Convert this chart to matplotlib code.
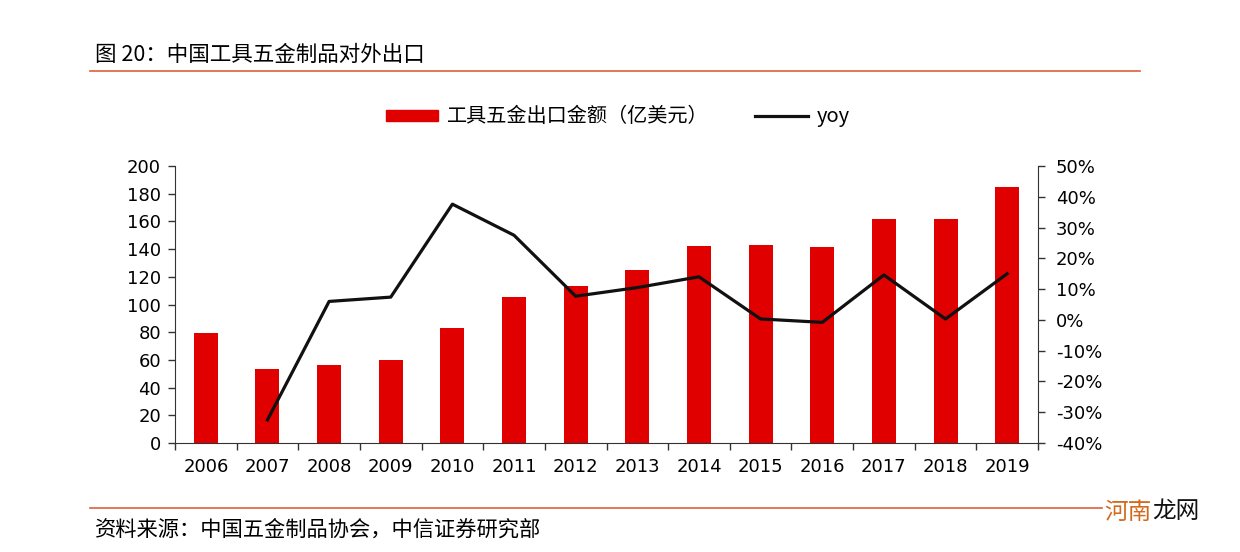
import matplotlib.pyplot as plt
from matplotlib.ticker import FuncFormatter, MultipleLocator
from matplotlib.lines import Line2D
from matplotlib.patches import Patch

plt.rcParams['font.family'] = ['DejaVu Sans', 'Noto Sans CJK SC']

years = ['2006', '2007', '2008', '2009', '2010', '2011', '2012',
         '2013', '2014', '2015', '2016', '2017', '2018', '2019']
export_value = [79.5, 53.5, 56.5, 60, 83, 105.5, 113.5, 125, 142, 143, 141.5, 161.5, 162, 185]
yoy = [None, -0.325, 0.06, 0.074, 0.376, 0.275, 0.077, 0.105, 0.14, 0.003, -0.008, 0.146, 0.003, 0.15]

cjk = ['Noto Sans CJK SC', 'DejaVu Sans']
line_col = '#d9603b'

fig = plt.figure(figsize=(12.4, 5.52), dpi=100)
ax = fig.add_axes([175 / 1240, 1 - 443 / 552, (1038 - 175) / 1240, (443 - 166) / 552])
ax2 = ax.twinx()

x = list(range(len(years)))
ax.bar(x, export_value, width=0.39, color='#e00000', zorder=2)
ax.set_xlim(-0.5, len(years) - 0.5)
ax.set_ylim(0, 200)
ax.yaxis.set_major_locator(MultipleLocator(20))
ax.set_xticks([i - 0.5 for i in range(len(years) + 1)])
ax.set_xticklabels([])
ax.set_xticks(x, minor=True)
ax.set_xticklabels(years, minor=True)
ax.tick_params(axis='x', which='minor', length=0, pad=11, labelsize=13)
ax.tick_params(axis='x', which='major', length=5, width=1, color='#333333')
ax.tick_params(axis='y', length=5, width=1, labelsize=13, pad=5, color='#333333')

yx = [i for i, v in enumerate(yoy) if v is not None]
yv = [v for v in yoy if v is not None]
ax2.plot(yx, yv, color='#111111', lw=2.3, zorder=3)
ax2.set_ylim(-0.4, 0.5)
ax2.yaxis.set_major_locator(MultipleLocator(0.1))
ax2.yaxis.set_major_formatter(FuncFormatter(lambda v, p: f'{round(v * 100):d}%'))
ax2.tick_params(axis='y', length=5, width=1, labelsize=13, pad=8, color='#333333')

for a in (ax, ax2):
    a.spines['top'].set_visible(False)
    for s in ('left', 'right', 'bottom'):
        a.spines[s].set_color('#333333')
ax.spines['right'].set_visible(False)
ax2.spines['left'].set_visible(False)
ax2.spines['bottom'].set_visible(False)

handles = [Patch(color='#e00000'), Line2D([0], [0], color='#111111', lw=2.3)]
leg = fig.legend(handles, ['工具五金出口金额（亿美元）', 'yoy'], loc='center',
                 bbox_to_anchor=(618 / 1240, 1 - 117 / 552), ncol=2, frameon=False,
                 handlelength=2.6, handleheight=0.45, columnspacing=2.3, handletextpad=0.45,
                 prop={'family': cjk, 'size': 14.5})

fig.text(95 / 1240, 1 - 55 / 552, '图 20：中国工具五金制品对外出口', family=cjk,
         fontsize=15.5, va='center', ha='left')
fig.add_artist(Line2D([90 / 1240, 1140 / 1240], [1 - 71 / 552] * 2, color=line_col, lw=1.2))
fig.add_artist(Line2D([90 / 1240, 1102 / 1240], [1 - 508 / 552] * 2, color=line_col, lw=1.2))
fig.text(95 / 1240, 1 - 530 / 552, '资料来源：中国五金制品协会，中信证券研究部', family=cjk,
         fontsize=15.3, va='center', ha='left')
fig.text(1104 / 1240, 1 - 512 / 552, '河南', family=cjk, fontsize=17,
         color='#d2691e', va='center', ha='left')
fig.text(1152 / 1240, 1 - 512 / 552, '龙网', family=cjk, fontsize=17,
         color='#111111', va='center', ha='left')

fig.savefig('out.png', dpi=100)
